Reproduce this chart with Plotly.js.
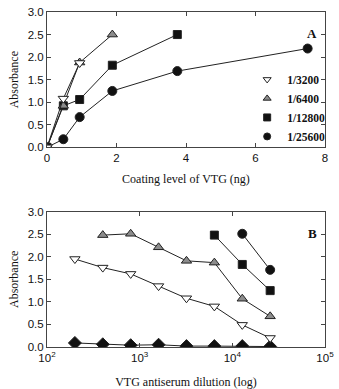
<!DOCTYPE html>
<html><head><meta charset="utf-8">
<script src="https://cdn.plot.ly/plotly-3.0.1.min.js"></script>
<style>html,body{margin:0;padding:0;background:#fff}#chart{width:339px;height:389px}</style>
</head><body><div id="chart"></div>
<script>
// Panel A: coating level of VTG (ng)
const coatingNg = [0, 0.47, 0.94, 1.88, 3.75, 7.5];
const a3200 = [0, 1.08, 1.87];
const a6400 = [0, 0.92, 1.88, 2.5];
const a12800 = [0, 0.92, 1.06, 1.82, 2.5];
const a25600 = [0, 0.18, 0.67, 1.25, 1.69, 2.19];
// Panel B: VTG antiserum dilution
const dilution = [200, 400, 800, 1600, 3200, 6400, 12800, 25600];
const b3200 = [1.95, 1.76, 1.62, 1.35, 1.08, 0.9, 0.49, 0.2];
const b6400 = [null, 2.48, 2.51, 2.21, 1.91, 1.87, 1.07, 0.68];
const b12800 = [null, null, null, null, null, 2.48, 1.83, 1.25];
const b25600 = [null, null, null, null, null, null, 2.51, 1.71];
const bControl = [0.09, 0.06, 0.04, 0.05, 0.02, 0.02, 0.02, 0.01];
const seriesNames = ['1/3200', '1/6400', '1/12800', '1/25600'];
const xTicksA = [0, 2, 4, 6, 8];
const yTicks = [0, 0.5, 1, 1.5, 2, 2.5, 3];
const xTicksB = [100, 1000, 10000, 100000];
const xTickTextB = ['10<sup>2</sup>', '10<sup>3</sup>', '10<sup>4</sup>', '10<sup>5</sup>'];

const LC = '#222';
const styles = {
  '1/3200': {symbol: 'triangle-down', color: '#fff', size: 9},
  '1/6400': {symbol: 'triangle-up', color: '#8c8c8c', size: 9},
  '1/12800': {symbol: 'square', color: '#111', size: 8},
  '1/25600': {symbol: 'circle', color: '#111', size: 9},
  'ctrl': {symbol: 'diamond', color: '#111', size: 10}
};
function mk(key, legendSize) {
  const s = styles[key];
  return {symbol: s.symbol, color: s.color, size: legendSize || s.size, line: {color: LC, width: 1}};
}
const traces = [];
function addSeries(x, y, key, xa, ya) {
  const n = y.length;
  const xs = x.slice(0, n);
  traces.push({x: xs, y: y, xaxis: xa, yaxis: ya, mode: 'lines', line: {color: LC, width: 1}, showlegend: false, hoverinfo: 'skip'});
  traces.push({x: xs, y: y, xaxis: xa, yaxis: ya, mode: 'markers', marker: mk(key), name: key, showlegend: false});
}
// Panel A, drawn so that open triangles end on top
addSeries(coatingNg, a25600, '1/25600', 'x', 'y');
addSeries(coatingNg, a12800, '1/12800', 'x', 'y');
addSeries(coatingNg, a6400, '1/6400', 'x', 'y');
addSeries(coatingNg, a3200, '1/3200', 'x', 'y');
// Legend entries (marker only)
seriesNames.forEach(function (nm) {
  traces.push({x: [null], y: [null], xaxis: 'x', yaxis: 'y', mode: 'markers', marker: mk(nm, 7), name: nm, showlegend: true});
});
// Panel B
addSeries(dilution, bControl, 'ctrl', 'x2', 'y2');
addSeries(dilution, b3200, '1/3200', 'x2', 'y2');
addSeries(dilution, b6400, '1/6400', 'x2', 'y2');
addSeries(dilution, b12800, '1/12800', 'x2', 'y2');
addSeries(dilution, b25600, '1/25600', 'x2', 'y2');

const tickFont = {family: 'Liberation Sans, Arial, sans-serif', size: 11.5, color: '#111'};
const titleFont = {family: 'Liberation Serif, Times New Roman, serif', size: 12, color: '#111'};
const axBase = {
  showgrid: false, zeroline: false, showline: true, linecolor: '#444', linewidth: 1,
  mirror: 'ticks', ticks: 'inside', ticklen: 4, tickcolor: '#444', tickfont: tickFont
};
const layout = {
  width: 339, height: 389,
  margin: {l: 47, r: 9, t: 12, b: 42},
  paper_bgcolor: '#fff', plot_bgcolor: '#fff',
  showlegend: true,
  legend: {x: 0.72, y: 0.842, xanchor: 'left', yanchor: 'top', bgcolor: 'rgba(0,0,0,0)',
    font: {family: 'Liberation Serif, Times New Roman, serif', size: 11.5, color: '#111', weight: 'bold'},
    itemwidth: 30, tracegroupgap: 0},
  xaxis: Object.assign({}, axBase, {range: [0, 8], tickvals: xTicksA, anchor: 'y',
    title: {text: 'Coating level of VTG (ng)', font: titleFont, standoff: 11}}),
  yaxis: Object.assign({}, axBase, {range: [0, 3], tickvals: yTicks, tickformat: '.1f', domain: [0.596, 1], anchor: 'x',
    title: {text: 'Absorbance', font: titleFont, standoff: 6}}),
  xaxis2: Object.assign({}, axBase, {type: 'log', range: [2, 5], tickvals: xTicksB, ticktext: xTickTextB, anchor: 'y2',
    title: {text: 'VTG antiserum dilution (log)', font: titleFont, standoff: 15}}),
  yaxis2: Object.assign({}, axBase, {range: [0, 3], tickvals: yTicks, tickformat: '.1f', domain: [0, 0.404], anchor: 'x2',
    title: {text: 'Absorbance', font: titleFont, standoff: 6}}),
  annotations: [
    {text: '<b>A</b>', xref: 'x domain', yref: 'y domain', x: 0.954, y: 0.84, xanchor: 'center', yanchor: 'middle', showarrow: false,
      font: {family: 'Liberation Serif, serif', size: 13, color: '#111'}},
    {text: '<b>B</b>', xref: 'x2 domain', yref: 'y2 domain', x: 0.954, y: 0.84, xanchor: 'center', yanchor: 'middle', showarrow: false,
      font: {family: 'Liberation Serif, serif', size: 13, color: '#111'}}
  ]
};
Plotly.newPlot('chart', traces, layout, {displayModeBar: false, staticPlot: true});
</script>
</body></html>
